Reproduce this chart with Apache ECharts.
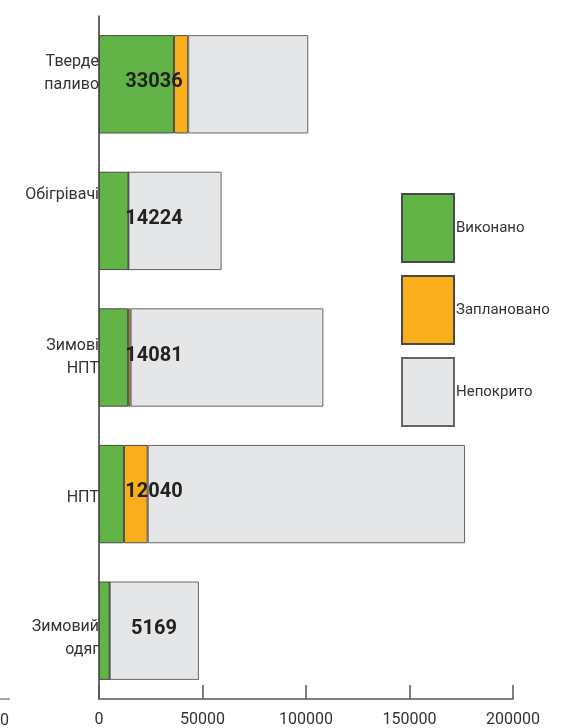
<!DOCTYPE html>
<html>
<head>
<meta charset="utf-8">
<script src="https://cdn.jsdelivr.net/npm/echarts@6/dist/echarts.min.js"></script>
<style>
  html, body { margin: 0; padding: 0; background: #fff; }
  #chart { width: 564px; height: 728px; }
</style>
</head>
<body>
<div id="chart"></div>
<script>
// категорії (зверху вниз)
const categories = ['Тверде\nпаливо', 'Обігрівачі', 'Зимові\nНПТ', 'НПТ', 'Зимовий\nодяг']
const seriesNames = ['Виконано', 'Заплановано', 'Непокрито']
const done = [36200, 14224, 14081, 12040, 5169]
const planned = [6900, 0, 1200, 11500, 0]
const uncovered = [58000, 45000, 93100, 153300, 43100]
const barLabels = ['33036', '14224', '14081', '12040', '5169']
const xTicks = [0, 50000, 100000, 150000, 200000]

// зсув підписів осі Y (як на оригіналі)
const labelShift = { 'Тверде\nпаливо': 'a', 'Обігрівачі': 'b', 'НПТ': 'c', 'Зимовий\nодяг': 'd' }

const chart = echarts.init(document.getElementById('chart'))

const border = { borderColor: '#4a4a4a', borderWidth: 1 }
const richBase = { fontSize: 16, color: '#333', lineHeight: 23, align: 'right' }

chart.setOption({
  animation: false,
  textStyle: { fontFamily: 'Roboto, "Noto Sans", sans-serif' },
  grid: { left: 99, right: 51, top: 16, bottom: 29, containLabel: false },
  legend: {
    orient: 'vertical',
    left: 401,
    top: 193,
    padding: 0,
    itemWidth: 52,
    itemHeight: 68,
    itemGap: 12,
    icon: 'rect',
    data: seriesNames,
    textStyle: { fontSize: 15, color: '#333', padding: [0, 0, 0, -3] }
  },
  xAxis: {
    type: 'value',
    min: xTicks[0],
    max: xTicks[xTicks.length - 1],
    interval: xTicks[1] - xTicks[0],
    axisLine: { show: true, lineStyle: { color: '#555', width: 1.5 } },
    axisTick: { show: true, inside: true, length: 14, lineStyle: { color: '#555', width: 1.5 } },
    axisLabel: { fontSize: 16, color: '#333', margin: 13, formatter: v => String(v) },
    splitLine: { show: false }
  },
  yAxis: {
    type: 'category',
    inverse: true,
    data: categories,
    axisLine: { show: true, lineStyle: { color: '#333', width: 1.5 } },
    axisTick: { show: false },
    axisLabel: {
      fontSize: 16,
      color: '#333',
      margin: 0,
      lineHeight: 23,
      formatter: function (v) {
        const k = labelShift[v]
        return k ? '{' + k + '|' + v + '}' : v
      },
      rich: {
        a: Object.assign({ padding: [0, 0, 22, 0] }, richBase),
        b: Object.assign({ padding: [0, 0, 52, 0] }, richBase),
        c: Object.assign({ padding: [8, 0, 0, 0] }, richBase),
        d: Object.assign({ padding: [16, 0, 0, 0] }, richBase)
      }
    }
  },
  series: [
    {
      name: seriesNames[0],
      type: 'bar',
      stack: 'total',
      z: 3,
      barCategoryGap: '28%',
      data: done,
      itemStyle: Object.assign({ color: '#62b446' }, border),
      label: {
        show: true,
        position: [55, '48%'],
        align: 'center',
        verticalAlign: 'middle',
        fontSize: 20,
        fontWeight: 'bold',
        color: '#222',
        formatter: p => barLabels[p.dataIndex]
      }
    },
    {
      name: seriesNames[1],
      type: 'bar',
      stack: 'total',
      data: planned,
      itemStyle: Object.assign({ color: '#f9ae1b' }, border)
    },
    {
      name: seriesNames[2],
      type: 'bar',
      stack: 'total',
      data: uncovered,
      itemStyle: Object.assign({ color: '#e5e6e8' }, { borderColor: '#666', borderWidth: 1 })
    }
  ],
  graphic: [
    { type: 'line', shape: { x1: 0, y1: 699, x2: 10, y2: 699 }, style: { stroke: '#888', lineWidth: 1.5 } },
    { type: 'text', left: 0, top: 713, style: { text: '0', fontSize: 16, fill: '#333', fontFamily: 'Roboto, sans-serif' } }
  ]
})
</script>
</body>
</html>
